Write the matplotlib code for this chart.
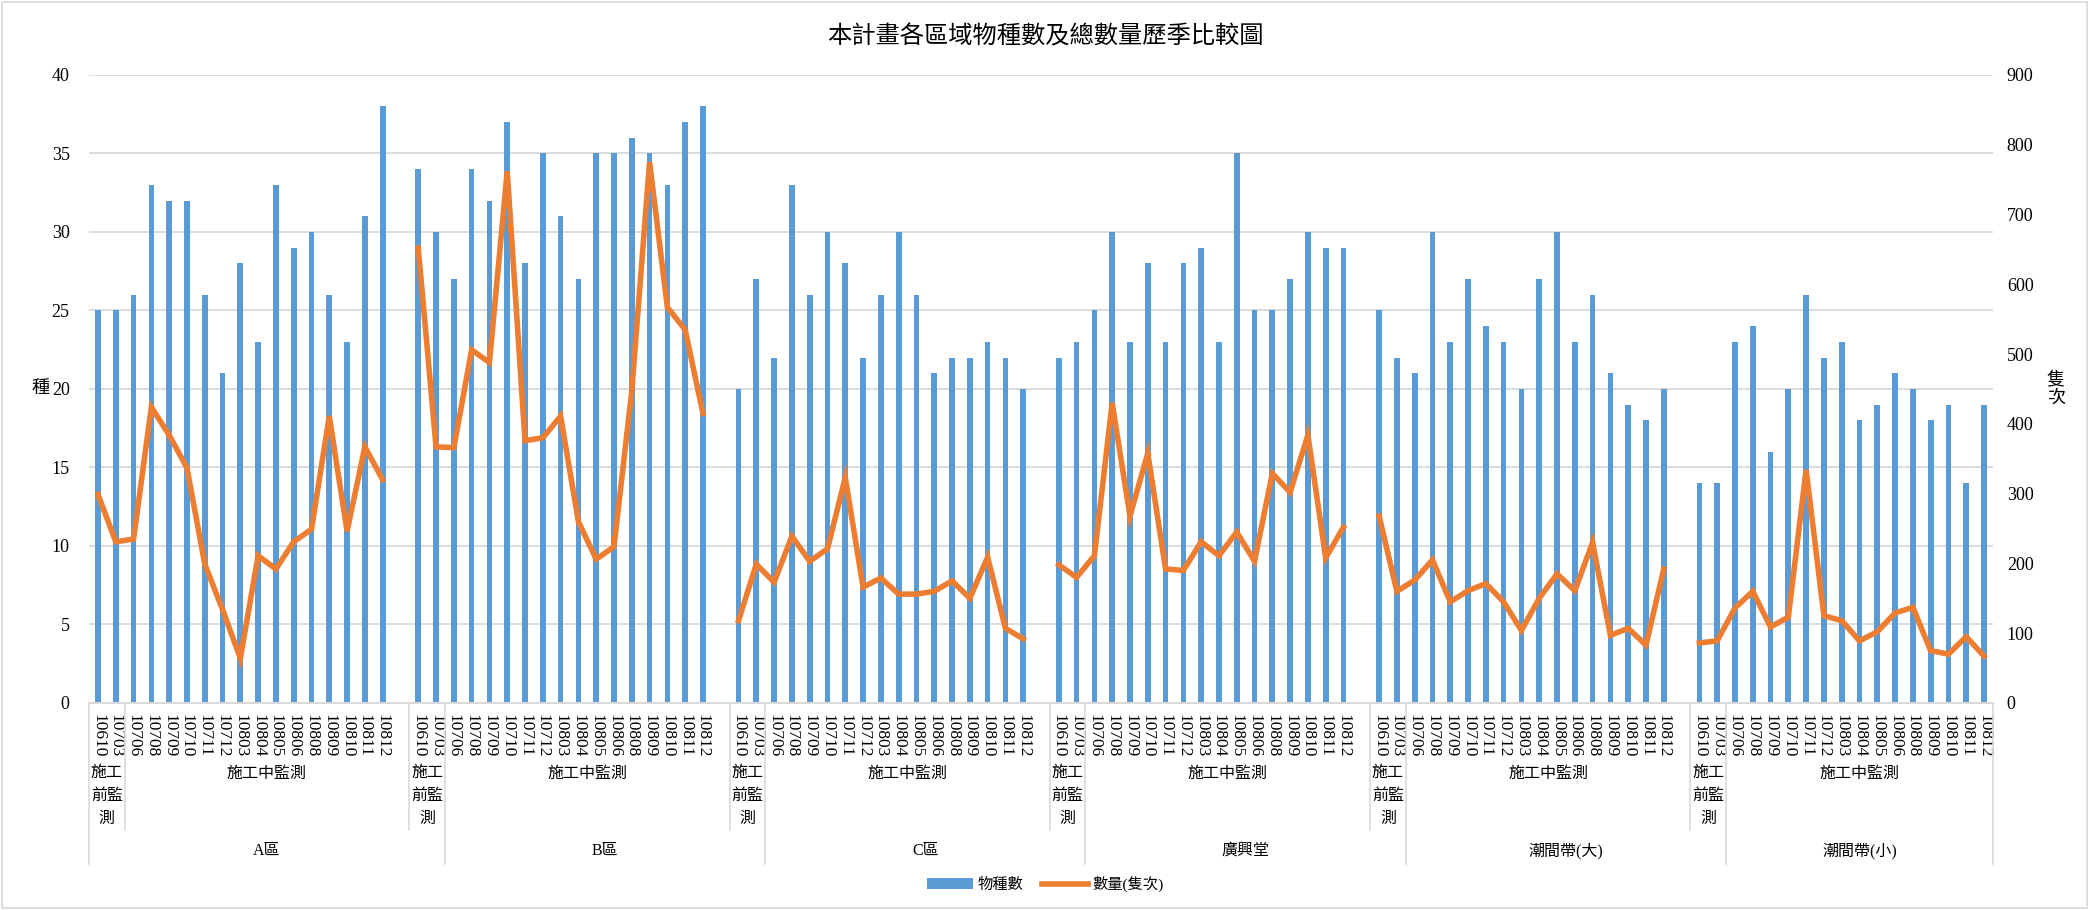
import matplotlib
matplotlib.use("Agg")
import matplotlib.pyplot as plt
import matplotlib.transforms as mtransforms
from matplotlib.lines import Line2D
from matplotlib.patches import Patch, Rectangle
import numpy as np

plt.rcParams['font.family'] = ['Liberation Serif', 'Noto Sans CJK TC', 'DejaVu Sans']

periods = ["10610", "10703", "10706", "10708", "10709", "10710", "10711", "10712",
           "10803", "10804", "10805", "10806", "10808", "10809", "10810", "10811", "10812"]
regions = ["A區", "B區", "C區", "廣興堂", "潮間帶(大)", "潮間帶(小)"]
phases = ["施工\n前監\n測", "施工中監測"]

# 物種數 (left axis)
species_a = [25, 25, 26, 33, 32, 32, 26, 21, 28, 23, 33, 29, 30, 26, 23, 31, 38]
species_b = [34, 30, 27, 34, 32, 37, 28, 35, 31, 27, 35, 35, 36, 35, 33, 37, 38]
species_c = [20, 27, 22, 33, 26, 30, 28, 22, 26, 30, 26, 21, 22, 22, 23, 22, 20]
species_g = [22, 23, 25, 30, 23, 28, 23, 28, 29, 23, 35, 25, 25, 27, 30, 29, 29]
species_big = [25, 22, 21, 30, 23, 27, 24, 23, 20, 27, 30, 23, 26, 21, 19, 18, 20]
species_small = [14, 14, 23, 24, 16, 20, 26, 22, 23, 18, 19, 21, 20, 18, 19, 14, 19]

# 數量(隻次) (right axis)
count_a = [299, 231, 235, 424, 384, 337, 199, 134, 64, 211, 192, 231, 249, 411, 246, 367, 320]
count_b = [652, 367, 366, 506, 488, 762, 376, 380, 411, 260, 206, 224, 447, 775, 567, 535, 415]
count_c = [118, 199, 173, 239, 203, 221, 323, 166, 179, 156, 156, 160, 175, 150, 209, 107, 92]
count_g = [198, 180, 211, 430, 268, 358, 192, 190, 231, 211, 245, 203, 329, 302, 384, 208, 252]
count_big = [268, 160, 176, 205, 145, 161, 171, 145, 104, 150, 185, 161, 230, 97, 107, 83, 192]
count_small = [86, 89, 136, 160, 109, 123, 334, 125, 118, 89, 102, 129, 137, 75, 70, 95, 67]

species_all = [species_a, species_b, species_c, species_g, species_big, species_small]
count_all = [count_a, count_b, count_c, count_g, count_big, count_small]

blue = "#5B9BD5"
orange = "#ED7D31"
grid = "#D9D9D9"

n_per = len(periods)
step = n_per + 1  # one blank category between regions
n_total = step * len(regions) - 1

xs, sp, labels = [], [], [""] * n_total
cnt_line = np.full(n_total, np.nan)
for g in range(len(regions)):
    for k in range(n_per):
        i = g * step + k
        xs.append(i)
        sp.append(species_all[g][k])
        cnt_line[i] = count_all[g][k]
        labels[i] = periods[k]

fig = plt.figure(figsize=(20.91, 9.10), dpi=100)
ax = fig.add_axes([0.0426, 0.2275, 0.9105, 0.6901])
ax2 = ax.twinx()

ax.bar(xs, sp, width=0.32, color=blue, zorder=2)
ax2.plot(np.arange(n_total), cnt_line, color=orange, lw=4, solid_joinstyle='miter', zorder=3)

ax.set_xlim(-0.5, n_total - 0.5)
ax.set_ylim(0, 40)
ax.set_yticks(np.arange(0, 41, 5))
ax2.set_ylim(0, 900)
ax2.set_yticks(np.arange(0, 901, 100))
ax.grid(axis='y', color=grid, lw=1.3, zorder=0)
ax.set_axisbelow(True)

for a in (ax, ax2):
    for s in ('top', 'left', 'right'):
        a.spines[s].set_visible(False)
    a.spines['bottom'].set_color(grid)
    a.spines['bottom'].set_linewidth(1.3)
    a.tick_params(axis='y', length=0, labelsize=13)
ax.tick_params(axis='y', pad=14)
ax2.tick_params(axis='y', pad=10)

ax.set_xticks(np.arange(n_total))
ax.set_xticklabels(labels, rotation=270, fontsize=12.5, va='top', ha='center')
ax.tick_params(axis='x', length=0, pad=8)

ax.set_ylabel("種", rotation=0, fontsize=13, labelpad=8, va='center')
ax2.set_ylabel("隻\n次", rotation=0, fontsize=13, labelpad=16, va='center', linespacing=1.1)

# multi-level category axis
tr = mtransforms.blended_transform_factory(ax.transData, fig.transFigure)
y_axis = 0.2275
y_lvl2 = 1 - 830 / 910
y_lvl3 = 1 - 864 / 910

lvl2_edges = [0]
for g in range(len(regions)):
    lvl2_edges += [g * step + 2, min((g + 1) * step, n_total)]
lvl3_edges = [0] + [g * step + 2 for g in range(1, len(regions))] + [n_total]

for e in lvl2_edges:
    y_end = y_lvl3 if e in lvl3_edges else y_lvl2
    ax.add_line(Line2D([e - 0.5, e - 0.5], [y_axis, y_end], transform=tr,
                       color=grid, lw=1.2, clip_on=False))

for g in range(len(regions)):
    start = g * step
    ax.text(start + 0.5, 1 - 796 / 910, phases[0], transform=tr, ha='center', va='center',
            fontsize=11.5, linespacing=1.55)
    end = min((g + 1) * step, n_total)
    ax.text((start + 2 + end - 1) / 2, 1 - 774 / 910, phases[1], transform=tr,
            ha='center', va='center', fontsize=11.5)

for g in range(len(regions)):
    a, b = lvl3_edges[g], lvl3_edges[g + 1]
    ax.text((a + b - 1) / 2, 1 - 851 / 910, regions[g], transform=tr,
            ha='center', va='center', fontsize=11.5)

fig.text(0.5, 1 - 37 / 910, "本計畫各區域物種數及總數量歷季比較圖", ha='center', va='center',
         fontsize=17.5)

handles = [Patch(facecolor=blue, edgecolor='none'), Line2D([], [], color=orange, lw=4)]
fig.legend(handles, ["物種數", "數量(隻次)"], loc='center', bbox_to_anchor=(0.5, 1 - 884 / 910),
           ncol=2, frameon=False, fontsize=11, handlelength=3, handleheight=0.7,
           columnspacing=1.2, handletextpad=0.3)

fig.patches.append(Rectangle((0.001, 0.002), 0.997, 0.996, transform=fig.transFigure,
                             fill=False, edgecolor=grid, lw=1.2))

fig.savefig("out.png", dpi=100, facecolor='white')
